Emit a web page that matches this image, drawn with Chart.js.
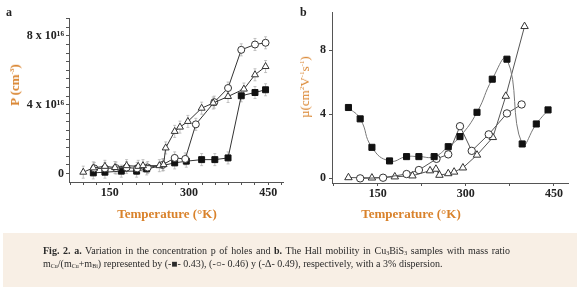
<!DOCTYPE html>
<html>
<head>
<meta charset="utf-8">
<script src="https://cdn.jsdelivr.net/npm/chart.js@4.4.1/dist/chart.umd.min.js"></script>
<style>
  body { margin: 0; background: #fff; }
  #wrap { position: relative; width: 580px; height: 291px; overflow: hidden; font-family: "Liberation Serif", serif; }
  canvas { position: absolute; top: 0; }
  .lbl { position: absolute; white-space: nowrap; }
  .panel { font-weight: bold; font-size: 12px; color: #222; }
  .ytitle { color: #d9822b; font-size: 13px; transform: translate(-50%, -50%) rotate(-90deg); }
  .xtitle { color: #d9822b; font-size: 13px; font-weight: bold; transform: translate(-50%, -50%); }
  #caption { position: absolute; left: 3px; top: 233px; width: 574px; height: 54px; background: #f8efe5; }
  .cap { position: absolute; left: 40px; font-size: 10px; color: #2a2a2a; white-space: nowrap; }
  .cap sub { font-size: 6px; vertical-align: -1px; }
</style>
</head>
<body>
<div id="wrap">
  <canvas id="chartA" width="290" height="230" style="left:0"></canvas>
  <canvas id="chartB" width="290" height="230" style="left:290px"></canvas>
  <div class="lbl panel" style="left:6px;top:5px">a</div>
  <div class="lbl panel" style="left:300px;top:5px">b</div>
  <div class="lbl ytitle" style="left:15px;top:85px;font-weight:bold">P (cm<sup style="font-size:7px">-3</sup>)</div>
  <div class="lbl ytitle" style="left:305px;top:87px">µ(cm<sup style="font-size:7px">2</sup>V<sup style="font-size:7px">-1</sup>s<sup style="font-size:7px">-1</sup>)</div>
  <div class="lbl xtitle" style="left:167px;top:214px">Temperature (°K)</div>
  <div class="lbl xtitle" style="left:411px;top:214px">Temperature (°K)</div>
  <div id="caption">
    <div class="cap" style="top:12px;width:467px;text-align:justify;text-align-last:justify"><b>Fig. 2. a.</b> Variation in the concentration p of holes and <b>b.</b> The Hall mobility in Cu<sub>3</sub>BiS<sub>3</sub> samples with mass ratio</div>
    <div class="cap" style="top:25px">m<sub>Cu</sub>/(m<sub>Cu</sub>+m<sub>Bi</sub>) represented by (-■- 0.43), (-○- 0.46) y (-Δ- 0.49), respectively, with a 3% dispersion.</div>
  </div>
</div>
<script>
// panel a: hole concentration (x 10^16 cm^-3) vs temperature (K)
const sqTempA = [119, 141, 172, 201, 220, 273, 295, 324, 349, 374, 399, 425, 445];
const sqPA = [0.04, 0.08, 0.14, 0.14, 0.27, 0.62, 0.72, 0.81, 0.81, 0.91, 4.52, 4.71, 4.87];
const ciTempA = [121, 141, 162, 182, 202, 222, 250, 273, 293, 313, 348, 374, 399, 425, 445];
const ciPA = [0.3, 0.3, 0.32, 0.35, 0.3, 0.35, 0.5, 0.91, 0.85, 2.86, 4.15, 4.97, 7.19, 7.5, 7.6];
const trTempA = [100, 119, 141, 160, 182, 204, 213, 244, 252, 256, 273, 283, 298, 324, 346, 374, 404, 425, 445];
const trPA = [0.08, 0.33, 0.42, 0.35, 0.46, 0.42, 0.46, 0.46, 0.52, 1.49, 2.45, 2.7, 3.03, 3.8, 4.1, 4.48, 4.91, 5.74, 6.22];
const errA = 0.35;

// panel b: Hall mobility (cm2 V-1 s-1) vs temperature (K)
const sqTempB = [100, 120, 140, 170, 199, 220, 246, 270, 290, 319, 345, 370, 396, 420, 440];
const sqMuB = [4.43, 3.72, 1.94, 1.09, 1.36, 1.36, 1.36, 1.98, 2.61, 4.13, 6.2, 7.45, 2.15, 3.4, 4.28];
const ciTempB = [120, 159, 199, 220, 250, 270, 290, 310, 339, 370, 395];
const ciMuB = [0.0, 0.04, 0.27, 0.52, 1.22, 1.5, 3.26, 1.72, 2.75, 4.06, 4.62];
const trTempB = [100, 140, 179, 209, 239, 249, 255, 270, 280, 295, 319, 346, 368, 400];
const trMuB = [0.05, 0.03, 0.1, 0.16, 0.48, 0.58, 0.2, 0.3, 0.4, 0.66, 1.46, 2.56, 5.14, 9.5];

const xLabels = [150, 300, 450];
const pLabels = {0: '0', 4: '4 x 10¹⁶', 8: '8 x 10¹⁶'};
const muLabels = [0, 4, 8];

const pts = (xs, ys) => xs.map((x, i) => ({x: x, y: ys[i]}));
const tickFont = {family: 'Liberation Serif', size: 12, weight: 'bold'};
const axisGrid = {drawOnChartArea: false, tickLength: 3, color: '#555', lineWidth: 1};

const errBars = {
    id: 'errBars',
    beforeDatasetsDraw(chart) {
        const ctx = chart.ctx, ys = chart.scales.y;
        ctx.save();
        ctx.strokeStyle = '#aaa';
        ctx.lineWidth = 0.7;
        chart.data.datasets.forEach((ds, i) => {
            chart.getDatasetMeta(i).data.forEach((pt, j) => {
                const v = ds.data[j].y;
                const top = ys.getPixelForValue(v + errA), bot = ys.getPixelForValue(v - errA);
                ctx.beginPath();
                ctx.moveTo(pt.x, top); ctx.lineTo(pt.x, bot);
                ctx.moveTo(pt.x - 1.5, top); ctx.lineTo(pt.x + 1.5, top);
                ctx.moveTo(pt.x - 1.5, bot); ctx.lineTo(pt.x + 1.5, bot);
                ctx.stroke();
            });
        });
        ctx.restore();
    }
};

function series(data, style, r, tension, lineColor) {
    const filled = style === 'rect';
    return {
        data: data,
        showLine: true,
        tension: tension,
        borderColor: lineColor,
        borderWidth: 1,
        pointStyle: style,
        pointRadius: r,
        pointBackgroundColor: filled ? '#111' : '#fff',
        pointBorderColor: filled ? '#111' : '#333',
        pointBorderWidth: 1
    };
}

function stepTicks(from, to, step) {
    const out = [];
    for (let v = from; v <= to + 1e-9; v += step) out.push({value: +v.toFixed(2)});
    return out;
}

new Chart(document.getElementById('chartA'), {
    type: 'scatter',
    data: {
        datasets: [
            series(pts(trTempA, trPA), 'triangle', 4, 0, '#333'),
            series(pts(ciTempA, ciPA), 'circle', 3.5, 0, '#333'),
            series(pts(sqTempA, sqPA), 'rect', 4.2, 0, '#333')
        ]
    },
    options: {
        responsive: false,
        animation: false,
        devicePixelRatio: 1,
        layout: {padding: {top: 18, right: 7, left: 0, bottom: 0}},
        plugins: {legend: {display: false}, tooltip: {enabled: false}},
        scales: {
            x: {
                type: 'linear', min: 73, max: 478,
                grid: axisGrid,
                border: {color: '#555', width: 1},
                afterBuildTicks: s => { s.ticks = stepTicks(75, 475, 25); },
                afterFit: s => { s.height = 48; },
                ticks: {
                    autoSkip: false, maxRotation: 0, padding: 1, color: '#222', font: tickFont,
                    callback: v => xLabels.includes(v) ? String(v) : ''
                }
            },
            y: {
                min: -0.49, max: 9.04,
                grid: axisGrid,
                border: {color: '#555', width: 1},
                afterBuildTicks: s => { s.ticks = stepTicks(0, 9, 0.5); },
                afterFit: s => { s.width = 69; },
                ticks: {
                    autoSkip: false, padding: 2, color: '#222', font: tickFont,
                    callback: v => pLabels[v] !== undefined ? pLabels[v] : ''
                }
            }
        }
    },
    plugins: [errBars]
});

new Chart(document.getElementById('chartB'), {
    type: 'scatter',
    data: {
        datasets: [
            series(pts(sqTempB, sqMuB), 'rect', 4.3, 0.5, '#777'),
            series(pts(ciTempB, ciMuB), 'circle', 3.7, 0, '#555'),
            series(pts(trTempB, trMuB), 'triangle', 4.3, 0, '#555')
        ]
    },
    options: {
        responsive: false,
        animation: false,
        devicePixelRatio: 1,
        layout: {padding: {top: 12, right: 12, left: 0, bottom: 0}},
        plugins: {legend: {display: false}, tooltip: {enabled: false}},
        scales: {
            x: {
                type: 'linear', min: 72, max: 474,
                grid: axisGrid,
                border: {color: '#555', width: 1},
                afterBuildTicks: s => { s.ticks = stepTicks(75, 450, 75); },
                afterFit: s => { s.height = 47; },
                ticks: {
                    autoSkip: false, maxRotation: 0, padding: 1, color: '#222', font: tickFont,
                    callback: v => xLabels.includes(v) ? String(v) : ''
                }
            },
            y: {
                min: -0.29, max: 10.4,
                grid: axisGrid,
                border: {color: '#555', width: 1},
                afterBuildTicks: s => { s.ticks = muLabels.map(v => ({value: v})); },
                afterFit: s => { s.width = 42; },
                ticks: {autoSkip: false, padding: 3, color: '#222', font: tickFont}
            }
        }
    }
});
</script>
</body>
</html>
